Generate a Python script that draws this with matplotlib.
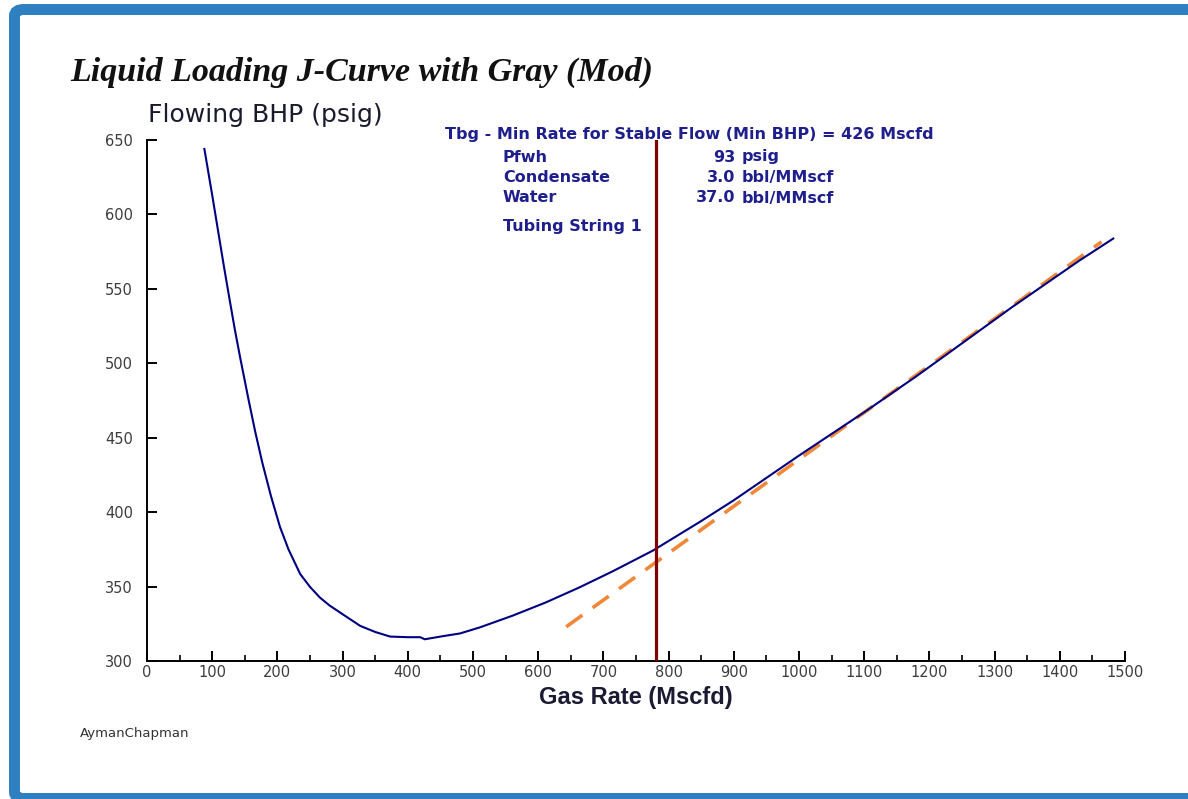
import numpy as np
import matplotlib
matplotlib.use('Agg')
import matplotlib.pyplot as plt
from matplotlib.patches import FancyBboxPatch
from matplotlib.ticker import MultipleLocator

# J-curve
gas_rate = [88, 100, 109, 118, 127, 135, 143, 156, 166, 177, 190, 204, 217, 235, 250,
            265, 280, 296, 327, 350, 373, 400, 419, 426, 454, 480, 510, 561, 612, 663,
            714, 776, 847, 899, 1000, 1103, 1179, 1225, 1327, 1430, 1482]
bhp = [644, 613, 589, 565, 542, 522, 503.6, 475, 454, 433, 411, 390, 375, 358.4, 349.8,
       342.7, 337.3, 332.6, 323.6, 319.5, 316.4, 316, 316, 314.6, 316.7, 318.5, 322.5, 330.5, 339.4, 349.4,
       360.2, 374.2, 393.2, 407.7, 438, 468, 491, 505.5, 537.8, 569, 583.8]

# straight dashed trend line
trend_rate = [643, 1464]
trend_bhp = [323, 581.6]

stable_rate = 780

info_labels = ['Pfwh', 'Condensate', 'Water']
info_values = ['93', '3.0', '37.0']
info_units = ['psig', 'bbl/MMscf', 'bbl/MMscf']

W, H = 1188, 799
fig = plt.figure(figsize=(W / 100, H / 100), dpi=100)
fig.patch.set_facecolor('white')

# blue frame round the chart
frame = FancyBboxPatch((14.5 / W, 1 - 798.5 / H), (1250 - 14.5) / W, (798.5 - 9.5) / H,
                       boxstyle='round,pad=0,rounding_size=0.008',
                       transform=fig.transFigure, facecolor='none',
                       edgecolor='#2f80c1', linewidth=7.9, zorder=-1)
fig.patches.append(frame)

ax = fig.add_axes([147 / W, 1 - 661 / H, (1125 - 147) / W, (661 - 140) / H])
ax.set_facecolor('none')
ax.set_zorder(2)

ax.plot(gas_rate, bhp, color='#000080', lw=1.5, zorder=3)
ax.plot(trend_rate, trend_bhp, color='#f0883a', lw=2.6, dashes=(5.5, 3.5), zorder=2)
ax.axvline(stable_rate, color='#800000', lw=2.3, zorder=4)

ax.set_xlim(0, 1500)
ax.set_ylim(300, 650)
ax.xaxis.set_major_locator(MultipleLocator(100))
ax.xaxis.set_minor_locator(MultipleLocator(50))
ax.yaxis.set_major_locator(MultipleLocator(50))

for s in ['top', 'right']:
    ax.spines[s].set_visible(False)
for s in ['left', 'bottom']:
    ax.spines[s].set_linewidth(1.4)
    ax.spines[s].set_color('black')

ax.tick_params(axis='both', which='major', direction='in', length=7, width=1.4,
               labelsize=10.5, labelcolor='#3d3d3d', pad=3)
ax.tick_params(axis='x', which='minor', direction='in', length=4, width=1.2)
ax.tick_params(axis='y', pad=10)
for lab in ax.get_xticklabels() + ax.get_yticklabels():
    lab.set_family('DejaVu Sans')

ax.set_xlabel('Gas Rate (Mscfd)', fontsize=17, fontweight='bold', color='#1a1a33',
              family='Liberation Sans', labelpad=4)

fig.text(70 / W, 1 - 72 / H, 'Liquid Loading J-Curve with Gray (Mod)', fontsize=24.5,
         family='Liberation Serif', style='italic', fontweight='bold', va='center', color='#111111')
fig.text(148 / W, 1 - 115 / H, 'Flowing BHP (psig)', fontsize=18, family='DejaVu Sans',
         va='center', color='#1a1a2e')

navy = '#1e1e8c'
fs = 11.5
fig.text(445 / W, 1 - 135 / H, 'Tbg - Min Rate for Stable Flow (Min BHP) = 426 Mscfd',
         fontsize=fs, family='DejaVu Sans', fontweight='bold', va='center', color=navy)
for i in range(len(info_labels)):
    yy = 1 - (157 + 20.5 * i) / H
    fig.text(503 / W, yy, info_labels[i], fontsize=fs, family='DejaVu Sans',
             fontweight='bold', va='center', color=navy)
    fig.text(735 / W, yy, info_values[i], fontsize=fs, family='DejaVu Sans',
             fontweight='bold', va='center', ha='right', color=navy)
    fig.text(742 / W, yy, info_units[i], fontsize=fs, family='DejaVu Sans',
             fontweight='bold', va='center', color=navy)
fig.text(503 / W, 1 - 227 / H, 'Tubing String 1', fontsize=fs, family='DejaVu Sans',
         fontweight='bold', va='center', color=navy)

fig.text(80 / W, 1 - 733 / H, 'AymanChapman', fontsize=9.5, family='DejaVu Sans',
         va='center', color='#333333')

fig.savefig('out.png', dpi=100)
